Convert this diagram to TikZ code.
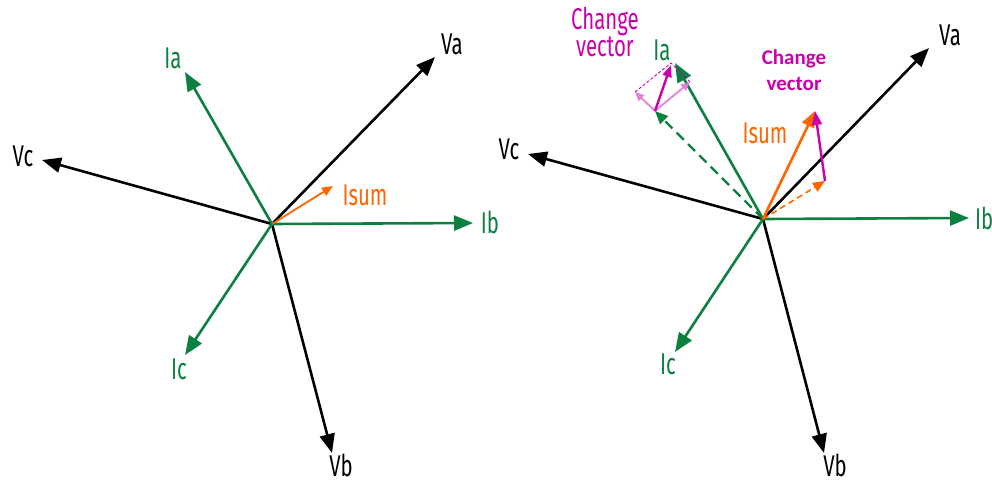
\documentclass[tikz,border=0pt]{standalone}
\usepackage{fontspec}
\setmainfont{Fira Sans}[FakeStretch=0.68]
\newfontfamily\cvfont{Carlito}
\usetikzlibrary{arrows.meta}
\definecolor{phgreen}{RGB}{12,128,64}
\definecolor{phorange}{RGB}{255,102,0}
\definecolor{chmag}{RGB}{204,0,170}
\definecolor{chpale}{RGB}{222,120,214}

\begin{document}
\begin{tikzpicture}[
  x=1pt, y=-1pt, font=\fontsize{30}{24}\selectfont,
  vec/.style={line width=2.6pt, -{Triangle[length=19pt,width=15pt]}},
  volt/.style={vec, draw=black},
  cur/.style={vec, draw=phgreen},
  lab/.style={inner sep=0pt},
  vlab/.style={lab, text=black}, ilab/.style={lab, text=phgreen},
  slab/.style={lab, text=phorange},
]
\useasboundingbox (0,0) rectangle (992,484);

% left diagram: balanced phasors
\coordinate (o1) at (272,224);
\coordinate (va1) at (435,57);  \coordinate (vb1) at (332,453); \coordinate (vc1) at (42,160);
\coordinate (ia1) at (185,72);  \coordinate (ib1) at (473,223); \coordinate (ic1) at (185,355);
\coordinate (is1) at (333,186);

\draw[volt] (o1) -- (va1);
\draw[volt] (o1) -- (vb1);
\draw[volt] (o1) -- (vc1);
\draw[cur] (o1) -- (ia1);
\draw[cur] (o1) -- (ib1);
\draw[cur] (o1) -- (ic1);
\draw[draw=phorange, line width=1.8pt, -{Triangle[length=11pt,width=9pt]}] (o1) -- (is1);

\node[vlab] (lva1) at (452,44) {Va};
\node[vlab, anchor=base] (lvb1) at (341,476) {Vb};
\node[vlab] (lvc1) at (23,156) {Vc};
\node[ilab] (lia1) at (173,58) {Ia};
\node[ilab] (lib1) at (490,222) {Ib};
\node[ilab] (lic1) at (179,369) {Ic};
\node[slab] (lis1) at (365,195) {Isum};

% right diagram: Ia changed, Isum grows
\coordinate (o2) at (763,219);
\coordinate (va2) at (929,48);  \coordinate (vb2) at (824,453); \coordinate (vc2) at (528,154);
\coordinate (ia2) at (675,63);  \coordinate (ib2) at (969,218); \coordinate (ic2) at (675,352);
\coordinate (iaold) at (655,111);
\coordinate (cvl) at (635,92);  \coordinate (cvr) at (690,82);
\coordinate (isold) at (825,181); \coordinate (is2) at (815,111);

\draw[volt] (o2) -- (va2);
\draw[volt] (o2) -- (vb2);
\draw[volt] (o2) -- (vc2);
\draw[phgreen, line width=2.2pt, dash pattern=on 10pt off 6pt,
      -{Triangle[length=13pt,width=11pt]}] (o2) -- (iaold);
\draw[cur] (o2) -- (ia2);
\draw[cur] (o2) -- (ib2);
\draw[cur] (o2) -- (ic2);

\draw[chpale, line width=2pt, opacity=0.85, -{Triangle[length=9pt,width=8pt]}] (iaold) -- (cvl);
\draw[chpale, line width=2pt, opacity=0.85, -{Triangle[length=9pt,width=8pt]}] (iaold) -- (cvr);
\draw[chmag, line width=0.9pt, dash pattern=on 3pt off 2pt] (cvl) -- (671,63);
\draw[chmag, line width=0.9pt, dash pattern=on 3pt off 2pt] (cvr) -- (671,63);
\draw[chmag, line width=2.4pt, -{Triangle[length=12pt,width=9pt]}] (iaold) -- (671,65);

\draw[phorange, line width=1.6pt, dash pattern=on 6pt off 4pt,
      -{Triangle[length=12pt,width=10pt]}] (o2) -- (isold);
\draw[phorange, line width=2.6pt, -{Triangle[length=16pt,width=13pt]}] (o2) -- (is2);
\draw[chmag, line width=2.4pt, -{Triangle[length=14pt,width=10pt]}] (isold) -- (is2);

\node[vlab] (lva2) at (950,35) {Va};
\node[vlab, anchor=base] (lvb2) at (835,476) {Vb};
\node[vlab] (lvc2) at (509,149) {Vc};
\node[ilab] (lia2) at (662,50) {Ia};
\node[ilab, anchor=west] (lib2) at (975,218) {Ib};
\node[ilab] (lic2) at (668,364) {Ic};
\node[slab] (lis2) at (765,133) {Isum};
\node[lab, text=chmag, align=center] (lcv1) at (605,32) {Change\\vector};
\node[lab, text=chmag, align=center, font=\cvfont\bfseries\fontsize{21}{26}\selectfont] (lcv2) at (794,70) {Change\\vector};
\end{tikzpicture}
\end{document}
